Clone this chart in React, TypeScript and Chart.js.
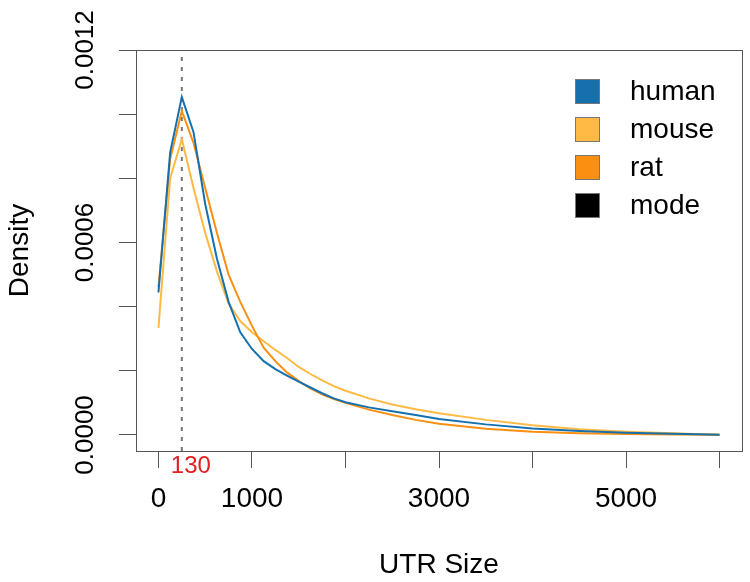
import React, { useEffect, useRef } from "react";
import { Chart, registerables } from "chart.js";

Chart.register(...registerables);

// UTR size sample positions (x axis)
const UTR_SIZE = [0, 125, 250, 375, 500, 625, 750, 875, 1000, 1125, 1250, 1375, 1500, 1625, 1750, 1875, 2000, 2250, 2500, 2750, 3000, 3500, 4000, 4500, 5000, 5500, 6000];

// Densities (units of 1e-4)
const HUMAN = [4.44, 8.8, 10.53, 9.44, 7.2, 5.5, 4.15, 3.2, 2.68, 2.3, 2.05, 1.85, 1.66, 1.48, 1.3, 1.14, 1.02, 0.86, 0.74, 0.62, 0.5, 0.33, 0.2, 0.12, 0.07, 0.04, 0.01];
const MOUSE = [3.34, 8.0, 9.22, 7.7, 6.3, 5.1, 4.1, 3.55, 3.2, 2.92, 2.65, 2.4, 2.12, 1.9, 1.7, 1.52, 1.38, 1.14, 0.95, 0.8, 0.68, 0.47, 0.3, 0.18, 0.1, 0.05, 0.01];
const RAT = [4.6, 8.6, 10.1, 9.1, 7.7, 6.3, 5.0, 4.15, 3.4, 2.72, 2.3, 1.95, 1.68, 1.45, 1.27, 1.12, 1.0, 0.79, 0.62, 0.47, 0.35, 0.19, 0.1, 0.05, 0.03, 0.015, 0.005];

const SERIES_NAMES = ["human", "mouse", "rat", "mode"];
const SERIES_COLORS = ["#1670AD", "#FFBA45", "#FA8F12", "#000000"];

const MODE_POS = 250;
const MODE_LABEL = "130";

const X_MIN = -240;
const X_MAX = 6240;
const X_TICKS = [0, 1000, 2000, 3000, 4000, 5000, 6000];
const X_LABELS = [0, 1000, 3000, 5000];

const Y_MIN = -0.00005;
const Y_MAX = 0.0012;
const Y_TICKS = [0, 0.0002, 0.0004, 0.0006, 0.0008, 0.001, 0.0012];
const Y_LABELS = [0, 0.0006, 0.0012];

const FONT = "'Liberation Sans', Arial, Helvetica, sans-serif";

const toPoints = (vals: number[]) => UTR_SIZE.map((x, i) => ({ x, y: vals[i] * 1e-4 }));

const overlayPlugin = {
  id: "overlay",
  afterDraw(chart: any) {
    const { ctx, chartArea, scales } = chart;
    const y = scales.y;
    const x = scales.x;
    ctx.save();
    // box
    ctx.strokeStyle = "#555";
    ctx.lineWidth = 1;
    ctx.strokeRect(
      Math.round(chartArea.left) + 0.5,
      Math.round(chartArea.top) + 0.5,
      Math.round(chartArea.right - chartArea.left),
      Math.round(chartArea.bottom - chartArea.top)
    );
    // y labels (rotated)
    ctx.font = `26px ${FONT}`;
    ctx.fillStyle = "#000";
    ctx.textAlign = "center";
    ctx.textBaseline = "middle";
    for (const v of Y_LABELS) {
      const txt = v.toFixed(4);
      const w = ctx.measureText(txt).width;
      let py = y.getPixelForValue(v);
      if (py - w / 2 < 2) py = 2 + w / 2;
      ctx.save();
      ctx.translate(86, py);
      ctx.rotate(-Math.PI / 2);
      ctx.fillText(txt, 0, 0);
      ctx.restore();
    }
    // mode label
    ctx.font = `24px ${FONT}`;
    ctx.fillStyle = "#E0201F";
    ctx.textAlign = "center";
    ctx.fillText(MODE_LABEL, x.getPixelForValue(MODE_POS) + 9, 466);
    // legend
    const lx = 575;
    const rows = [91, 129, 167, 205];
    ctx.font = `28px ${FONT}`;
    ctx.textAlign = "left";
    SERIES_NAMES.forEach((name, i) => {
      const cy = rows[i];
      ctx.fillStyle = SERIES_COLORS[i];
      ctx.fillRect(lx, cy - 12, 25, 25);
      ctx.strokeStyle = "#777";
      ctx.lineWidth = 1;
      ctx.strokeRect(lx + 0.5, cy - 11.5, 24, 24);
      ctx.fillStyle = "#000";
      ctx.fillText(name, 630, cy + 1);
    });
    ctx.restore();
  },
};

export default function App() {
  const ref = useRef<HTMLCanvasElement>(null);
  useEffect(() => {
    if (!ref.current) return;
    const chart = new Chart(ref.current, {
      type: "line",
      data: {
        datasets: [
          { label: "human", data: toPoints(HUMAN), borderColor: SERIES_COLORS[0], borderWidth: 2, pointRadius: 0, tension: 0 },
          { label: "rat", data: toPoints(RAT), borderColor: SERIES_COLORS[2], borderWidth: 2, pointRadius: 0, tension: 0 },
          { label: "mouse", data: toPoints(MOUSE), borderColor: SERIES_COLORS[1], borderWidth: 2, pointRadius: 0, tension: 0 },
          {
            label: "mode",
            data: [{ x: MODE_POS, y: Y_MIN }, { x: MODE_POS, y: Y_MAX }],
            borderColor: "#777",
            borderWidth: 2,
            borderDash: [4, 6],
            pointRadius: 0,
          },
        ],
      },
      options: {
        responsive: false,
        animation: false,
        devicePixelRatio: 1,
        layout: { padding: { left: 0, top: 50, right: 8, bottom: 0 } },
        plugins: { legend: { display: false }, tooltip: { enabled: false } },
        scales: {
          x: {
            type: "linear",
            min: X_MIN,
            max: X_MAX,
            afterFit: (s: any) => { s.height = 131; },
            afterBuildTicks: (s: any) => { s.ticks = X_TICKS.map((value) => ({ value })); },
            border: { display: false },
            grid: { drawOnChartArea: false, drawTicks: true, tickLength: 17, color: "#555", lineWidth: 1 },
            ticks: {
              autoSkip: false,
              maxRotation: 0,
              minRotation: 0,
              padding: 14,
              color: "#000",
              font: { family: FONT, size: 28 },
              callback: (v: any) => (X_LABELS.includes(Number(v)) ? String(v) : ""),
            },
            title: { display: true, text: "UTR Size", color: "#000", font: { family: FONT, size: 28 }, padding: { top: 0, bottom: 0 } },
          },
          y: {
            type: "linear",
            min: Y_MIN,
            max: Y_MAX,
            afterFit: (s: any) => { s.width = 136; },
            afterBuildTicks: (s: any) => { s.ticks = Y_TICKS.map((value) => ({ value })); },
            border: { display: false },
            grid: { drawOnChartArea: false, drawTicks: true, tickLength: 17, color: "#555", lineWidth: 1 },
            ticks: { display: false },
            title: { display: true, text: "Density", color: "#000", font: { family: FONT, size: 28 }, padding: { top: 3, bottom: 0 } },
          },
        },
      },
      plugins: [overlayPlugin],
    });
    return () => chart.destroy();
  }, []);
  return (
    <div style={{ position: "fixed", left: 0, top: 0, width: 750, height: 582, background: "#fff" }}>
      <canvas ref={ref} width={750} height={582} style={{ display: "block" }} />
    </div>
  );
}
